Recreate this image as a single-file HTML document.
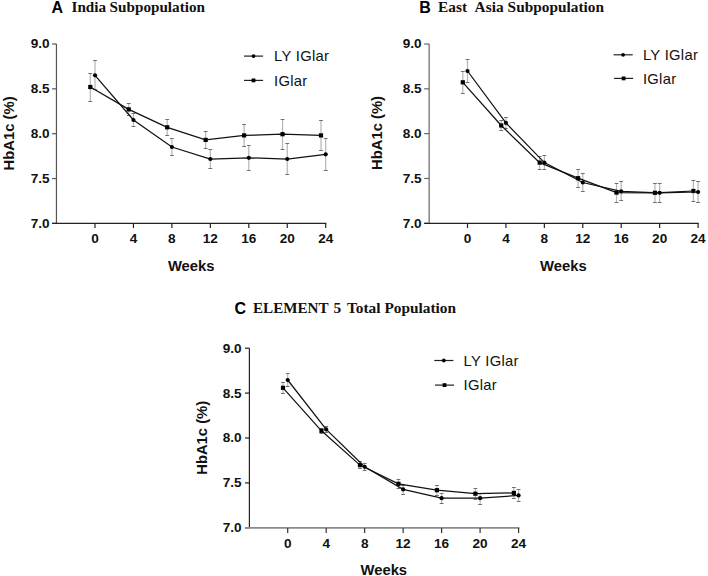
<!DOCTYPE html>
<html><head><meta charset="utf-8"><style>
html,body{margin:0;padding:0;background:#fff;}
svg{display:block;}
.tk{font-family:"Liberation Sans",sans-serif;font-weight:bold;font-size:13.6px;fill:#111;}
.lg{font-family:"Liberation Sans",sans-serif;font-size:14.8px;letter-spacing:0.3px;fill:#111;}
.at{font-family:"Liberation Sans",sans-serif;font-weight:bold;font-size:14.8px;fill:#111;}
.tl{font-family:"Liberation Sans",sans-serif;font-weight:bold;font-size:16px;fill:#000;}
.tt{font-family:"Liberation Serif",serif;font-weight:bold;font-size:15.35px;fill:#111;}
</style></head><body>
<svg width="708" height="576" viewBox="0 0 708 576">
<rect width="708" height="576" fill="#fff"/>
<line x1="56.45" y1="44.0" x2="56.45" y2="223.4" stroke="#555" stroke-width="1.2"/>
<line x1="52.050000000000004" y1="44.00" x2="56.45" y2="44.00" stroke="#555" stroke-width="1.2"/>
<text x="49.6" y="48.40" class="tk" text-anchor="end">9.0</text>
<line x1="52.050000000000004" y1="88.85" x2="56.45" y2="88.85" stroke="#555" stroke-width="1.2"/>
<text x="49.6" y="93.25" class="tk" text-anchor="end">8.5</text>
<line x1="52.050000000000004" y1="133.70" x2="56.45" y2="133.70" stroke="#555" stroke-width="1.2"/>
<text x="49.6" y="138.10" class="tk" text-anchor="end">8.0</text>
<line x1="52.050000000000004" y1="178.55" x2="56.45" y2="178.55" stroke="#555" stroke-width="1.2"/>
<text x="49.6" y="182.95" class="tk" text-anchor="end">7.5</text>
<line x1="52.050000000000004" y1="223.40" x2="56.45" y2="223.40" stroke="#555" stroke-width="1.2"/>
<text x="49.6" y="227.80" class="tk" text-anchor="end">7.0</text>
<line x1="52.050000000000004" y1="223.4" x2="326.30" y2="223.4" stroke="#222" stroke-width="1.2"/>
<line x1="95.00" y1="223.4" x2="95.00" y2="228.1" stroke="#222" stroke-width="1.2"/>
<text x="95.00" y="242.5" class="tk" text-anchor="middle">0</text>
<line x1="133.45" y1="223.4" x2="133.45" y2="228.1" stroke="#222" stroke-width="1.2"/>
<text x="133.45" y="242.5" class="tk" text-anchor="middle">4</text>
<line x1="171.90" y1="223.4" x2="171.90" y2="228.1" stroke="#222" stroke-width="1.2"/>
<text x="171.90" y="242.5" class="tk" text-anchor="middle">8</text>
<line x1="210.35" y1="223.4" x2="210.35" y2="228.1" stroke="#222" stroke-width="1.2"/>
<text x="210.35" y="242.5" class="tk" text-anchor="middle">12</text>
<line x1="248.80" y1="223.4" x2="248.80" y2="228.1" stroke="#222" stroke-width="1.2"/>
<text x="248.80" y="242.5" class="tk" text-anchor="middle">16</text>
<line x1="287.25" y1="223.4" x2="287.25" y2="228.1" stroke="#222" stroke-width="1.2"/>
<text x="287.25" y="242.5" class="tk" text-anchor="middle">20</text>
<line x1="325.70" y1="223.4" x2="325.70" y2="228.1" stroke="#222" stroke-width="1.2"/>
<text x="325.70" y="242.5" class="tk" text-anchor="middle">24</text>
<line x1="90.30" y1="73.50" x2="90.30" y2="101.50" stroke="#b4b4b4" stroke-width="1.2"/>
<line x1="88.40" y1="73.50" x2="92.20" y2="73.50" stroke="#707070" stroke-width="1"/>
<line x1="88.40" y1="101.50" x2="92.20" y2="101.50" stroke="#707070" stroke-width="1"/>
<line x1="128.75" y1="103.50" x2="128.75" y2="115.50" stroke="#b4b4b4" stroke-width="1.2"/>
<line x1="126.85" y1="103.50" x2="130.65" y2="103.50" stroke="#707070" stroke-width="1"/>
<line x1="126.85" y1="115.50" x2="130.65" y2="115.50" stroke="#707070" stroke-width="1"/>
<line x1="167.20" y1="119.50" x2="167.20" y2="135.50" stroke="#b4b4b4" stroke-width="1.2"/>
<line x1="165.30" y1="119.50" x2="169.10" y2="119.50" stroke="#707070" stroke-width="1"/>
<line x1="165.30" y1="135.50" x2="169.10" y2="135.50" stroke="#707070" stroke-width="1"/>
<line x1="205.65" y1="131.50" x2="205.65" y2="148.50" stroke="#b4b4b4" stroke-width="1.2"/>
<line x1="203.75" y1="131.50" x2="207.55" y2="131.50" stroke="#707070" stroke-width="1"/>
<line x1="203.75" y1="148.50" x2="207.55" y2="148.50" stroke="#707070" stroke-width="1"/>
<line x1="244.10" y1="124.50" x2="244.10" y2="146.50" stroke="#b4b4b4" stroke-width="1.2"/>
<line x1="242.20" y1="124.50" x2="246.00" y2="124.50" stroke="#707070" stroke-width="1"/>
<line x1="242.20" y1="146.50" x2="246.00" y2="146.50" stroke="#707070" stroke-width="1"/>
<line x1="282.55" y1="119.50" x2="282.55" y2="149.50" stroke="#b4b4b4" stroke-width="1.2"/>
<line x1="280.65" y1="119.50" x2="284.45" y2="119.50" stroke="#707070" stroke-width="1"/>
<line x1="280.65" y1="149.50" x2="284.45" y2="149.50" stroke="#707070" stroke-width="1"/>
<line x1="321.00" y1="120.50" x2="321.00" y2="150.50" stroke="#b4b4b4" stroke-width="1.2"/>
<line x1="319.10" y1="120.50" x2="322.90" y2="120.50" stroke="#707070" stroke-width="1"/>
<line x1="319.10" y1="150.50" x2="322.90" y2="150.50" stroke="#707070" stroke-width="1"/>
<line x1="95.00" y1="60.50" x2="95.00" y2="89.50" stroke="#b4b4b4" stroke-width="1.2"/>
<line x1="93.10" y1="60.50" x2="96.90" y2="60.50" stroke="#707070" stroke-width="1"/>
<line x1="93.10" y1="89.50" x2="96.90" y2="89.50" stroke="#707070" stroke-width="1"/>
<line x1="133.45" y1="113.50" x2="133.45" y2="126.50" stroke="#b4b4b4" stroke-width="1.2"/>
<line x1="131.55" y1="113.50" x2="135.35" y2="113.50" stroke="#707070" stroke-width="1"/>
<line x1="131.55" y1="126.50" x2="135.35" y2="126.50" stroke="#707070" stroke-width="1"/>
<line x1="171.90" y1="138.50" x2="171.90" y2="155.50" stroke="#b4b4b4" stroke-width="1.2"/>
<line x1="170.00" y1="138.50" x2="173.80" y2="138.50" stroke="#707070" stroke-width="1"/>
<line x1="170.00" y1="155.50" x2="173.80" y2="155.50" stroke="#707070" stroke-width="1"/>
<line x1="210.35" y1="149.50" x2="210.35" y2="168.50" stroke="#b4b4b4" stroke-width="1.2"/>
<line x1="208.45" y1="149.50" x2="212.25" y2="149.50" stroke="#707070" stroke-width="1"/>
<line x1="208.45" y1="168.50" x2="212.25" y2="168.50" stroke="#707070" stroke-width="1"/>
<line x1="248.80" y1="145.50" x2="248.80" y2="170.50" stroke="#b4b4b4" stroke-width="1.2"/>
<line x1="246.90" y1="145.50" x2="250.70" y2="145.50" stroke="#707070" stroke-width="1"/>
<line x1="246.90" y1="170.50" x2="250.70" y2="170.50" stroke="#707070" stroke-width="1"/>
<line x1="287.25" y1="143.50" x2="287.25" y2="174.50" stroke="#b4b4b4" stroke-width="1.2"/>
<line x1="285.35" y1="143.50" x2="289.15" y2="143.50" stroke="#707070" stroke-width="1"/>
<line x1="285.35" y1="174.50" x2="289.15" y2="174.50" stroke="#707070" stroke-width="1"/>
<line x1="325.70" y1="138.50" x2="325.70" y2="170.50" stroke="#b4b4b4" stroke-width="1.2"/>
<line x1="323.80" y1="138.50" x2="327.60" y2="138.50" stroke="#707070" stroke-width="1"/>
<line x1="323.80" y1="170.50" x2="327.60" y2="170.50" stroke="#707070" stroke-width="1"/>
<polyline points="90.30,87.00 128.75,109.40 167.20,127.30 205.65,139.90 244.10,135.40 282.55,134.20 321.00,135.40" fill="none" stroke="#111" stroke-width="1.25"/>
<rect x="88.20" y="84.90" width="4.2" height="4.2" fill="#000"/>
<rect x="126.65" y="107.30" width="4.2" height="4.2" fill="#000"/>
<rect x="165.10" y="125.20" width="4.2" height="4.2" fill="#000"/>
<rect x="203.55" y="137.80" width="4.2" height="4.2" fill="#000"/>
<rect x="242.00" y="133.30" width="4.2" height="4.2" fill="#000"/>
<rect x="280.45" y="132.10" width="4.2" height="4.2" fill="#000"/>
<rect x="318.90" y="133.30" width="4.2" height="4.2" fill="#000"/>
<polyline points="95.00,75.30 133.45,120.00 171.90,147.00 210.35,159.00 248.80,157.80 287.25,159.00 325.70,154.30" fill="none" stroke="#111" stroke-width="1.25"/>
<circle cx="95.00" cy="75.30" r="2.1" fill="#000"/>
<circle cx="133.45" cy="120.00" r="2.1" fill="#000"/>
<circle cx="171.90" cy="147.00" r="2.1" fill="#000"/>
<circle cx="210.35" cy="159.00" r="2.1" fill="#000"/>
<circle cx="248.80" cy="157.80" r="2.1" fill="#000"/>
<circle cx="287.25" cy="159.00" r="2.1" fill="#000"/>
<circle cx="325.70" cy="154.30" r="2.1" fill="#000"/>
<line x1="244.0" y1="56.1" x2="263.1" y2="56.1" stroke="#222" stroke-width="1.2"/>
<circle cx="253.5" cy="56.1" r="1.9" fill="#000"/>
<text x="274.0" y="61.4" class="lg">LY IGlar</text>
<line x1="244.0" y1="80.4" x2="263.1" y2="80.4" stroke="#222" stroke-width="1.2"/>
<rect x="251.6" y="78.5" width="3.8" height="3.8" fill="#000"/>
<text x="274.0" y="85.7" class="lg">IGlar</text>
<text x="13.8" y="133.4" class="at" text-anchor="middle" transform="rotate(-90 13.8 133.4)">HbA1c (%)</text>
<text x="191.2" y="271.2" class="at" text-anchor="middle">Weeks</text>
<text x="51.6" y="13.0" class="tl">A</text>
<text x="71.5" y="11.6" class="tt" style="font-size:15.2px">India</text>
<text x="109.6" y="11.6" class="tt" style="font-size:15.2px">Subpopulation</text>
<line x1="429.15" y1="44.0" x2="429.15" y2="223.3" stroke="#666" stroke-width="1.2"/>
<line x1="424.15" y1="44.00" x2="429.15" y2="44.00" stroke="#666" stroke-width="1.2"/>
<text x="421.6" y="48.40" class="tk" text-anchor="end">9.0</text>
<line x1="424.15" y1="88.83" x2="429.15" y2="88.83" stroke="#666" stroke-width="1.2"/>
<text x="421.6" y="93.23" class="tk" text-anchor="end">8.5</text>
<line x1="424.15" y1="133.65" x2="429.15" y2="133.65" stroke="#666" stroke-width="1.2"/>
<text x="421.6" y="138.05" class="tk" text-anchor="end">8.0</text>
<line x1="424.15" y1="178.48" x2="429.15" y2="178.48" stroke="#666" stroke-width="1.2"/>
<text x="421.6" y="182.88" class="tk" text-anchor="end">7.5</text>
<line x1="424.15" y1="223.30" x2="429.15" y2="223.30" stroke="#666" stroke-width="1.2"/>
<text x="421.6" y="227.70" class="tk" text-anchor="end">7.0</text>
<line x1="424.15" y1="223.3" x2="698.68" y2="223.3" stroke="#222" stroke-width="1.2"/>
<line x1="467.50" y1="223.3" x2="467.50" y2="228.0" stroke="#222" stroke-width="1.2"/>
<text x="467.50" y="242.5" class="tk" text-anchor="middle">0</text>
<line x1="505.93" y1="223.3" x2="505.93" y2="228.0" stroke="#222" stroke-width="1.2"/>
<text x="505.93" y="242.5" class="tk" text-anchor="middle">4</text>
<line x1="544.36" y1="223.3" x2="544.36" y2="228.0" stroke="#222" stroke-width="1.2"/>
<text x="544.36" y="242.5" class="tk" text-anchor="middle">8</text>
<line x1="582.79" y1="223.3" x2="582.79" y2="228.0" stroke="#222" stroke-width="1.2"/>
<text x="582.79" y="242.5" class="tk" text-anchor="middle">12</text>
<line x1="621.22" y1="223.3" x2="621.22" y2="228.0" stroke="#222" stroke-width="1.2"/>
<text x="621.22" y="242.5" class="tk" text-anchor="middle">16</text>
<line x1="659.65" y1="223.3" x2="659.65" y2="228.0" stroke="#222" stroke-width="1.2"/>
<text x="659.65" y="242.5" class="tk" text-anchor="middle">20</text>
<line x1="698.08" y1="223.3" x2="698.08" y2="228.0" stroke="#222" stroke-width="1.2"/>
<text x="698.08" y="242.5" class="tk" text-anchor="middle">24</text>
<line x1="462.80" y1="71.50" x2="462.80" y2="93.50" stroke="#b4b4b4" stroke-width="1.2"/>
<line x1="460.90" y1="71.50" x2="464.70" y2="71.50" stroke="#707070" stroke-width="1"/>
<line x1="460.90" y1="93.50" x2="464.70" y2="93.50" stroke="#707070" stroke-width="1"/>
<line x1="501.23" y1="120.50" x2="501.23" y2="130.50" stroke="#b4b4b4" stroke-width="1.2"/>
<line x1="499.33" y1="120.50" x2="503.13" y2="120.50" stroke="#707070" stroke-width="1"/>
<line x1="499.33" y1="130.50" x2="503.13" y2="130.50" stroke="#707070" stroke-width="1"/>
<line x1="539.66" y1="156.50" x2="539.66" y2="169.50" stroke="#b4b4b4" stroke-width="1.2"/>
<line x1="537.76" y1="156.50" x2="541.56" y2="156.50" stroke="#707070" stroke-width="1"/>
<line x1="537.76" y1="169.50" x2="541.56" y2="169.50" stroke="#707070" stroke-width="1"/>
<line x1="578.09" y1="169.50" x2="578.09" y2="187.50" stroke="#b4b4b4" stroke-width="1.2"/>
<line x1="576.19" y1="169.50" x2="579.99" y2="169.50" stroke="#707070" stroke-width="1"/>
<line x1="576.19" y1="187.50" x2="579.99" y2="187.50" stroke="#707070" stroke-width="1"/>
<line x1="616.52" y1="183.50" x2="616.52" y2="202.50" stroke="#b4b4b4" stroke-width="1.2"/>
<line x1="614.62" y1="183.50" x2="618.42" y2="183.50" stroke="#707070" stroke-width="1"/>
<line x1="614.62" y1="202.50" x2="618.42" y2="202.50" stroke="#707070" stroke-width="1"/>
<line x1="654.95" y1="183.50" x2="654.95" y2="202.50" stroke="#b4b4b4" stroke-width="1.2"/>
<line x1="653.05" y1="183.50" x2="656.85" y2="183.50" stroke="#707070" stroke-width="1"/>
<line x1="653.05" y1="202.50" x2="656.85" y2="202.50" stroke="#707070" stroke-width="1"/>
<line x1="693.38" y1="180.50" x2="693.38" y2="201.50" stroke="#b4b4b4" stroke-width="1.2"/>
<line x1="691.48" y1="180.50" x2="695.28" y2="180.50" stroke="#707070" stroke-width="1"/>
<line x1="691.48" y1="201.50" x2="695.28" y2="201.50" stroke="#707070" stroke-width="1"/>
<line x1="467.50" y1="59.50" x2="467.50" y2="82.50" stroke="#b4b4b4" stroke-width="1.2"/>
<line x1="465.60" y1="59.50" x2="469.40" y2="59.50" stroke="#707070" stroke-width="1"/>
<line x1="465.60" y1="82.50" x2="469.40" y2="82.50" stroke="#707070" stroke-width="1"/>
<line x1="505.93" y1="117.50" x2="505.93" y2="128.50" stroke="#b4b4b4" stroke-width="1.2"/>
<line x1="504.03" y1="117.50" x2="507.83" y2="117.50" stroke="#707070" stroke-width="1"/>
<line x1="504.03" y1="128.50" x2="507.83" y2="128.50" stroke="#707070" stroke-width="1"/>
<line x1="544.36" y1="155.50" x2="544.36" y2="169.50" stroke="#b4b4b4" stroke-width="1.2"/>
<line x1="542.46" y1="155.50" x2="546.26" y2="155.50" stroke="#707070" stroke-width="1"/>
<line x1="542.46" y1="169.50" x2="546.26" y2="169.50" stroke="#707070" stroke-width="1"/>
<line x1="582.79" y1="173.50" x2="582.79" y2="191.50" stroke="#b4b4b4" stroke-width="1.2"/>
<line x1="580.89" y1="173.50" x2="584.69" y2="173.50" stroke="#707070" stroke-width="1"/>
<line x1="580.89" y1="191.50" x2="584.69" y2="191.50" stroke="#707070" stroke-width="1"/>
<line x1="621.22" y1="181.50" x2="621.22" y2="200.50" stroke="#b4b4b4" stroke-width="1.2"/>
<line x1="619.32" y1="181.50" x2="623.12" y2="181.50" stroke="#707070" stroke-width="1"/>
<line x1="619.32" y1="200.50" x2="623.12" y2="200.50" stroke="#707070" stroke-width="1"/>
<line x1="659.65" y1="183.50" x2="659.65" y2="202.50" stroke="#b4b4b4" stroke-width="1.2"/>
<line x1="657.75" y1="183.50" x2="661.55" y2="183.50" stroke="#707070" stroke-width="1"/>
<line x1="657.75" y1="202.50" x2="661.55" y2="202.50" stroke="#707070" stroke-width="1"/>
<line x1="698.08" y1="181.50" x2="698.08" y2="202.50" stroke="#b4b4b4" stroke-width="1.2"/>
<line x1="696.18" y1="181.50" x2="699.98" y2="181.50" stroke="#707070" stroke-width="1"/>
<line x1="696.18" y1="202.50" x2="699.98" y2="202.50" stroke="#707070" stroke-width="1"/>
<polyline points="462.80,82.30 501.23,125.50 539.66,162.60 578.09,178.20 616.52,192.60 654.95,192.80 693.38,191.00" fill="none" stroke="#111" stroke-width="1.25"/>
<rect x="460.70" y="80.20" width="4.2" height="4.2" fill="#000"/>
<rect x="499.13" y="123.40" width="4.2" height="4.2" fill="#000"/>
<rect x="537.56" y="160.50" width="4.2" height="4.2" fill="#000"/>
<rect x="575.99" y="176.10" width="4.2" height="4.2" fill="#000"/>
<rect x="614.42" y="190.50" width="4.2" height="4.2" fill="#000"/>
<rect x="652.85" y="190.70" width="4.2" height="4.2" fill="#000"/>
<rect x="691.28" y="188.90" width="4.2" height="4.2" fill="#000"/>
<polyline points="467.50,71.00 505.93,122.90 544.36,162.60 582.79,182.50 621.22,191.30 659.65,192.80 698.08,192.00" fill="none" stroke="#111" stroke-width="1.25"/>
<circle cx="467.50" cy="71.00" r="2.1" fill="#000"/>
<circle cx="505.93" cy="122.90" r="2.1" fill="#000"/>
<circle cx="544.36" cy="162.60" r="2.1" fill="#000"/>
<circle cx="582.79" cy="182.50" r="2.1" fill="#000"/>
<circle cx="621.22" cy="191.30" r="2.1" fill="#000"/>
<circle cx="659.65" cy="192.80" r="2.1" fill="#000"/>
<circle cx="698.08" cy="192.00" r="2.1" fill="#000"/>
<line x1="613.6" y1="54.8" x2="632.7" y2="54.8" stroke="#222" stroke-width="1.2"/>
<circle cx="623.1" cy="54.8" r="1.9" fill="#000"/>
<text x="642.9" y="60.099999999999994" class="lg">LY IGlar</text>
<line x1="614.1" y1="78.4" x2="633.2" y2="78.4" stroke="#222" stroke-width="1.2"/>
<rect x="621.7" y="76.5" width="3.8" height="3.8" fill="#000"/>
<text x="642.9" y="83.7" class="lg">IGlar</text>
<text x="382.3" y="133.0" class="at" text-anchor="middle" transform="rotate(-90 382.3 133.0)">HbA1c (%)</text>
<text x="563.4" y="271.2" class="at" text-anchor="middle">Weeks</text>
<text x="419.2" y="12.7" class="tl">B</text>
<text x="438.0" y="11.7" class="tt">East</text>
<text x="474.6" y="11.7" class="tt">Asia</text>
<text x="507.6" y="11.7" class="tt">Subpopulation</text>
<line x1="249.4" y1="348.2" x2="249.4" y2="527.8" stroke="#222" stroke-width="1.2"/>
<line x1="245.0" y1="348.20" x2="249.4" y2="348.20" stroke="#222" stroke-width="1.2"/>
<text x="241.6" y="352.60" class="tk" text-anchor="end">9.0</text>
<line x1="245.0" y1="393.10" x2="249.4" y2="393.10" stroke="#222" stroke-width="1.2"/>
<text x="241.6" y="397.50" class="tk" text-anchor="end">8.5</text>
<line x1="245.0" y1="438.00" x2="249.4" y2="438.00" stroke="#222" stroke-width="1.2"/>
<text x="241.6" y="442.40" class="tk" text-anchor="end">8.0</text>
<line x1="245.0" y1="482.90" x2="249.4" y2="482.90" stroke="#222" stroke-width="1.2"/>
<text x="241.6" y="487.30" class="tk" text-anchor="end">7.5</text>
<line x1="245.0" y1="527.80" x2="249.4" y2="527.80" stroke="#222" stroke-width="1.2"/>
<text x="241.6" y="532.20" class="tk" text-anchor="end">7.0</text>
<line x1="245.0" y1="527.9" x2="519.43" y2="527.9" stroke="#8a8a8a" stroke-width="1.7"/>
<line x1="287.70" y1="527.9" x2="287.70" y2="533.0" stroke="#333" stroke-width="1.2"/>
<text x="287.70" y="547.8" class="tk" text-anchor="middle">0</text>
<line x1="326.18" y1="527.9" x2="326.18" y2="533.0" stroke="#333" stroke-width="1.2"/>
<text x="326.18" y="547.8" class="tk" text-anchor="middle">4</text>
<line x1="364.66" y1="527.9" x2="364.66" y2="533.0" stroke="#333" stroke-width="1.2"/>
<text x="364.66" y="547.8" class="tk" text-anchor="middle">8</text>
<line x1="403.14" y1="527.9" x2="403.14" y2="533.0" stroke="#333" stroke-width="1.2"/>
<text x="403.14" y="547.8" class="tk" text-anchor="middle">12</text>
<line x1="441.62" y1="527.9" x2="441.62" y2="533.0" stroke="#333" stroke-width="1.2"/>
<text x="441.62" y="547.8" class="tk" text-anchor="middle">16</text>
<line x1="480.10" y1="527.9" x2="480.10" y2="533.0" stroke="#333" stroke-width="1.2"/>
<text x="480.10" y="547.8" class="tk" text-anchor="middle">20</text>
<line x1="518.58" y1="527.9" x2="518.58" y2="533.0" stroke="#333" stroke-width="1.2"/>
<text x="518.58" y="547.8" class="tk" text-anchor="middle">24</text>
<line x1="283.00" y1="382.50" x2="283.00" y2="393.50" stroke="#b4b4b4" stroke-width="1.2"/>
<line x1="281.10" y1="382.50" x2="284.90" y2="382.50" stroke="#707070" stroke-width="1"/>
<line x1="281.10" y1="393.50" x2="284.90" y2="393.50" stroke="#707070" stroke-width="1"/>
<line x1="321.48" y1="428.50" x2="321.48" y2="433.50" stroke="#b4b4b4" stroke-width="1.2"/>
<line x1="319.58" y1="428.50" x2="323.38" y2="428.50" stroke="#707070" stroke-width="1"/>
<line x1="319.58" y1="433.50" x2="323.38" y2="433.50" stroke="#707070" stroke-width="1"/>
<line x1="359.96" y1="461.50" x2="359.96" y2="468.50" stroke="#b4b4b4" stroke-width="1.2"/>
<line x1="358.06" y1="461.50" x2="361.86" y2="461.50" stroke="#707070" stroke-width="1"/>
<line x1="358.06" y1="468.50" x2="361.86" y2="468.50" stroke="#707070" stroke-width="1"/>
<line x1="398.44" y1="479.50" x2="398.44" y2="488.50" stroke="#b4b4b4" stroke-width="1.2"/>
<line x1="396.54" y1="479.50" x2="400.34" y2="479.50" stroke="#707070" stroke-width="1"/>
<line x1="396.54" y1="488.50" x2="400.34" y2="488.50" stroke="#707070" stroke-width="1"/>
<line x1="436.92" y1="485.50" x2="436.92" y2="495.50" stroke="#b4b4b4" stroke-width="1.2"/>
<line x1="435.02" y1="485.50" x2="438.82" y2="485.50" stroke="#707070" stroke-width="1"/>
<line x1="435.02" y1="495.50" x2="438.82" y2="495.50" stroke="#707070" stroke-width="1"/>
<line x1="475.40" y1="488.50" x2="475.40" y2="499.50" stroke="#b4b4b4" stroke-width="1.2"/>
<line x1="473.50" y1="488.50" x2="477.30" y2="488.50" stroke="#707070" stroke-width="1"/>
<line x1="473.50" y1="499.50" x2="477.30" y2="499.50" stroke="#707070" stroke-width="1"/>
<line x1="513.88" y1="487.50" x2="513.88" y2="498.50" stroke="#b4b4b4" stroke-width="1.2"/>
<line x1="511.98" y1="487.50" x2="515.78" y2="487.50" stroke="#707070" stroke-width="1"/>
<line x1="511.98" y1="498.50" x2="515.78" y2="498.50" stroke="#707070" stroke-width="1"/>
<line x1="287.70" y1="373.50" x2="287.70" y2="386.50" stroke="#b4b4b4" stroke-width="1.2"/>
<line x1="285.80" y1="373.50" x2="289.60" y2="373.50" stroke="#707070" stroke-width="1"/>
<line x1="285.80" y1="386.50" x2="289.60" y2="386.50" stroke="#707070" stroke-width="1"/>
<line x1="326.18" y1="426.50" x2="326.18" y2="432.50" stroke="#b4b4b4" stroke-width="1.2"/>
<line x1="324.28" y1="426.50" x2="328.08" y2="426.50" stroke="#707070" stroke-width="1"/>
<line x1="324.28" y1="432.50" x2="328.08" y2="432.50" stroke="#707070" stroke-width="1"/>
<line x1="364.66" y1="463.50" x2="364.66" y2="470.50" stroke="#b4b4b4" stroke-width="1.2"/>
<line x1="362.76" y1="463.50" x2="366.56" y2="463.50" stroke="#707070" stroke-width="1"/>
<line x1="362.76" y1="470.50" x2="366.56" y2="470.50" stroke="#707070" stroke-width="1"/>
<line x1="403.14" y1="485.50" x2="403.14" y2="494.50" stroke="#b4b4b4" stroke-width="1.2"/>
<line x1="401.24" y1="485.50" x2="405.04" y2="485.50" stroke="#707070" stroke-width="1"/>
<line x1="401.24" y1="494.50" x2="405.04" y2="494.50" stroke="#707070" stroke-width="1"/>
<line x1="441.62" y1="493.50" x2="441.62" y2="503.50" stroke="#b4b4b4" stroke-width="1.2"/>
<line x1="439.72" y1="493.50" x2="443.52" y2="493.50" stroke="#707070" stroke-width="1"/>
<line x1="439.72" y1="503.50" x2="443.52" y2="503.50" stroke="#707070" stroke-width="1"/>
<line x1="480.10" y1="493.50" x2="480.10" y2="504.50" stroke="#b4b4b4" stroke-width="1.2"/>
<line x1="478.20" y1="493.50" x2="482.00" y2="493.50" stroke="#707070" stroke-width="1"/>
<line x1="478.20" y1="504.50" x2="482.00" y2="504.50" stroke="#707070" stroke-width="1"/>
<line x1="518.58" y1="489.50" x2="518.58" y2="501.50" stroke="#b4b4b4" stroke-width="1.2"/>
<line x1="516.68" y1="489.50" x2="520.48" y2="489.50" stroke="#707070" stroke-width="1"/>
<line x1="516.68" y1="501.50" x2="520.48" y2="501.50" stroke="#707070" stroke-width="1"/>
<polyline points="283.00,387.80 321.48,430.80 359.96,465.10 398.44,483.80 436.92,490.20 475.40,493.70 513.88,492.90" fill="none" stroke="#111" stroke-width="1.25"/>
<rect x="280.90" y="385.70" width="4.2" height="4.2" fill="#000"/>
<rect x="319.38" y="428.70" width="4.2" height="4.2" fill="#000"/>
<rect x="357.86" y="463.00" width="4.2" height="4.2" fill="#000"/>
<rect x="396.34" y="481.70" width="4.2" height="4.2" fill="#000"/>
<rect x="434.82" y="488.10" width="4.2" height="4.2" fill="#000"/>
<rect x="473.30" y="491.60" width="4.2" height="4.2" fill="#000"/>
<rect x="511.78" y="490.80" width="4.2" height="4.2" fill="#000"/>
<polyline points="287.70,380.00 326.18,429.40 364.66,466.80 403.14,489.40 441.62,498.20 480.10,498.20 518.58,495.40" fill="none" stroke="#111" stroke-width="1.25"/>
<circle cx="287.70" cy="380.00" r="2.1" fill="#000"/>
<circle cx="326.18" cy="429.40" r="2.1" fill="#000"/>
<circle cx="364.66" cy="466.80" r="2.1" fill="#000"/>
<circle cx="403.14" cy="489.40" r="2.1" fill="#000"/>
<circle cx="441.62" cy="498.20" r="2.1" fill="#000"/>
<circle cx="480.10" cy="498.20" r="2.1" fill="#000"/>
<circle cx="518.58" cy="495.40" r="2.1" fill="#000"/>
<line x1="434.3" y1="360.5" x2="453.40000000000003" y2="360.5" stroke="#222" stroke-width="1.2"/>
<circle cx="443.8" cy="360.5" r="1.9" fill="#000"/>
<text x="463.5" y="365.8" class="lg">LY IGlar</text>
<line x1="435.0" y1="385.1" x2="454.1" y2="385.1" stroke="#222" stroke-width="1.2"/>
<rect x="442.6" y="383.20000000000005" width="3.8" height="3.8" fill="#000"/>
<text x="463.5" y="390.40000000000003" class="lg">IGlar</text>
<text x="207.4" y="437.8" class="at" text-anchor="middle" transform="rotate(-90 207.4 437.8)">HbA1c (%)</text>
<text x="383.8" y="574.6" class="at" text-anchor="middle">Weeks</text>
<text x="234.6" y="313.6" class="tl">C</text>
<text x="253.0" y="313.3" class="tt" style="font-size:15.1px">ELEMENT</text>
<text x="333.4" y="313.3" class="tt">5</text>
<text x="346.9" y="313.3" class="tt">Total</text>
<text x="384.4" y="313.3" class="tt">Population</text>
</svg>
</body></html>
